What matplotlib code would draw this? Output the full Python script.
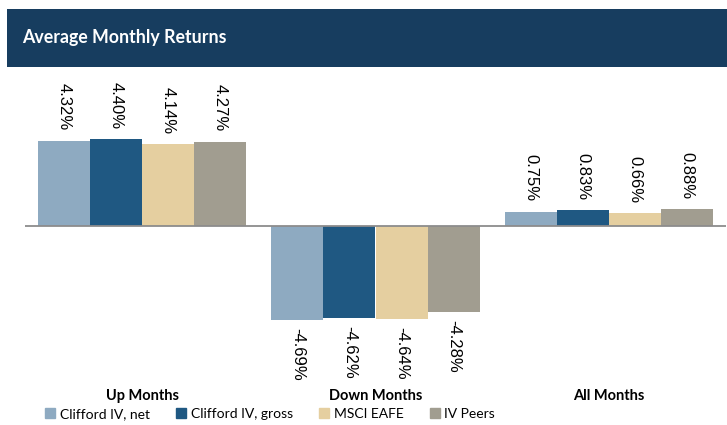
import matplotlib
matplotlib.use("Agg")
import matplotlib.pyplot as plt
from matplotlib.patches import Rectangle, Patch
import numpy as np

categories = ["Up Months", "Down Months", "All Months"]
series_names = ["Clifford IV, net", "Clifford IV, gross", "MSCI EAFE", "IV Peers"]
net = [4.32, -4.69, 0.75]
gross = [4.40, -4.62, 0.83]
eafe = [4.14, -4.64, 0.66]
peers = [4.27, -4.28, 0.88]
series = [net, gross, eafe, peers]
colors = ["#8eaac1", "#1f5882", "#e5cfa0", "#a19d90"]
title = "Average Monthly Returns"

W, H = 727, 425
fig = plt.figure(figsize=(W / 100, H / 100), dpi=100)
fig.patch.set_facecolor("white")

# header band
fig.patches.append(Rectangle((7 / W, 1 - 67 / H), 1 - 7 / W, 58 / H,
                             transform=fig.transFigure, facecolor="#173d5f",
                             edgecolor="none", zorder=0))
fig.text(22 / W, 1 - 38 / H, title, color="white", fontsize=12.8,
         fontweight="bold", family="Lato", va="center", ha="left")

# axes: zero at y=226 px, 19.9 px per unit
ax_left, ax_right = 25.25, 725.75
ax_top, ax_bot = 75, 385
ppu = 19.9
zero_px = 226.5
ytop = (zero_px - ax_top) / ppu
ybot = -(ax_bot - zero_px) / ppu
ax = fig.add_axes([ax_left / W, 1 - ax_bot / H, (ax_right - ax_left) / W, (ax_bot - ax_top) / H])
ax.set_xlim(-0.5, 2.5)
ax.set_ylim(ybot, ytop)
ax.axis("off")

x = np.arange(len(categories))
bw = 0.223
offsets = (np.arange(4) - 1.5) * bw
handles = []
lab_font = dict(fontsize=12, family="Liberation Sans")
for i, (vals, c, name) in enumerate(zip(series, colors, series_names)):
    ax.bar(x + offsets[i], vals, width=bw, color=c, label=name, zorder=2)
    handles.append(Patch(color=c, label=name))
    for xi, v in zip(x, vals):
        if v >= 0:
            ax.annotate(f"{v:.2f}%", (xi + offsets[i], v), xytext=(0, 10),
                        textcoords="offset pixels", rotation=-90, ha="center",
                        va="bottom", **lab_font)
        else:
            ax.annotate(f"{v:.2f}%", (xi + offsets[i], v), xytext=(0, -8),
                        textcoords="offset pixels", rotation=-90, ha="center",
                        va="top", **lab_font)

ax.axhline(0, color="#8c8c8c", lw=1.3, zorder=3)

for xi, cat in zip(x, categories):
    ax.annotate(cat, (xi, 0), xycoords=("data", "figure fraction"),
                xytext=(xi, 1 - 396 / H), textcoords=("data", "figure fraction"),
                ha="center", va="center", fontsize=10.5, fontweight="bold", family="Lato")

leg = fig.legend(handles=handles, loc="center left", bbox_to_anchor=(45 / W, 1 - 414 / H),
                 ncol=4, frameon=False, prop={"family": "Lato", "size": 10},
                 handlelength=0.75, handleheight=0.75, handletextpad=0.3,
                 columnspacing=1.9, borderaxespad=0, borderpad=0)

fig.savefig("out.png", dpi=100)
